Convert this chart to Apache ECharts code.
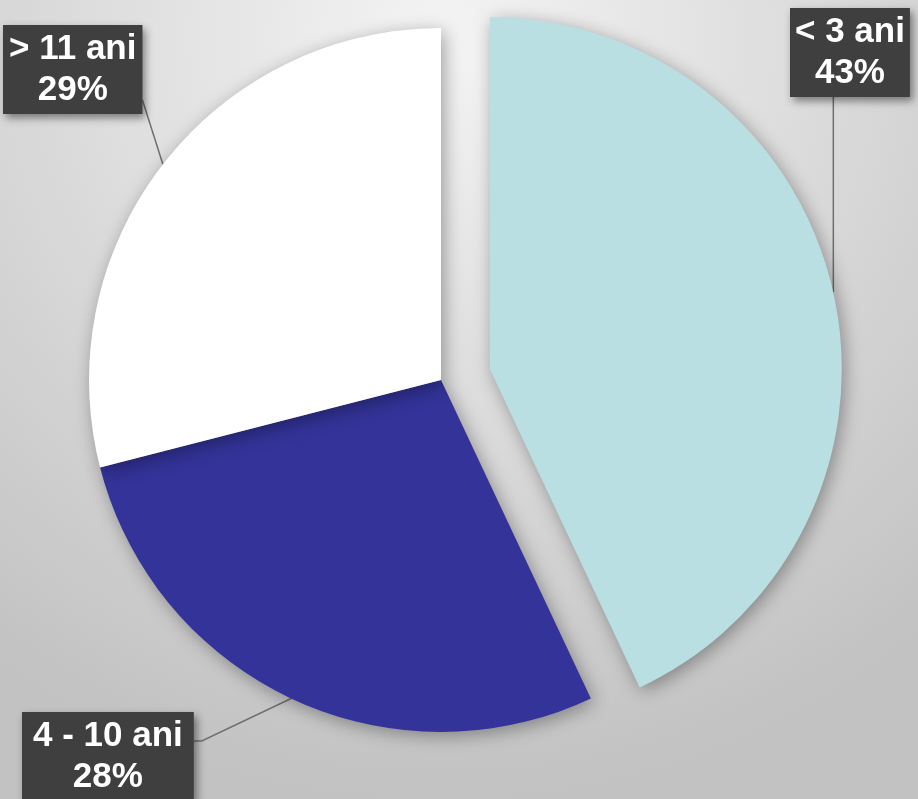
<!DOCTYPE html>
<html>
<head>
<meta charset="utf-8">
<script src="https://cdn.jsdelivr.net/npm/echarts@6/dist/echarts.min.js"></script>
<style>
  html, body { margin: 0; padding: 0; }
  #chart { width: 918px; height: 799px; }
</style>
</head>
<body>
<div id="chart"></div>
<script>
// data
let categories = ['< 3 ani', '4 - 10 ani', '> 11 ani']
let values = [43, 28, 29]
let colors = ['#b9dfe3', '#333399', '#ffffff']
let exploded = [true, false, false]

// label box top-left corners
let labelPos = [
    { x: 790, y: 8 },
    { x: 22, y: 712 },
    { x: 3, y: 25 }
]
let labelPad = [[5, 5, 2, 5], [5, 11, 2, 11], [5, 6, 2, 6]]

let center = [441, 380]
let radius = 352
let explodeDist = 50

let myChart = echarts.init(document.getElementById('chart'))

let total = values.reduce((a, b) => a + b, 0)

// offset of the pulled out slice, along its middle angle
let explodeCenter = function (i) {
    let before = values.slice(0, i).reduce((a, b) => a + b, 0)
    let mid = (before + values[i] / 2) / total * Math.PI * 2
    return [center[0] + Math.sin(mid) * explodeDist, center[1] - Math.cos(mid) * explodeDist]
}

let sliceShadow = {
    shadowBlur: 18,
    shadowColor: 'rgba(0,0,0,0.35)',
    shadowOffsetX: 3,
    shadowOffsetY: 4
}

let makeData = function (pulled) {
    return categories.map((c, i) => {
        let visible = exploded[i] === pulled
        return {
            name: c,
            value: values[i],
            itemStyle: visible ? Object.assign({ color: colors[i] }, sliceShadow) : { color: 'rgba(0,0,0,0)' },
            label: { show: visible, padding: labelPad[i] },
            labelLine: { show: visible }
        }
    })
}

let labelLayout = function (params) {
    let i = params.dataIndex
    if (!params.labelLinePoints) return {}
    let p = labelPos[i]
    let r = params.labelRect
    let start = params.labelLinePoints[0]
    let pts
    if (i === 0) {
        pts = [start, [start[0], p.y + r.height], [start[0], p.y + r.height]]
    } else if (i === 1) {
        let by = p.y + 29
        pts = [start, [p.x + r.width + 8, by], [p.x + r.width, by]]
    } else {
        pts = [start, [p.x + r.width, p.y + 75], [p.x + r.width, p.y + 75]]
    }
    return {
        x: p.x + r.width / 2,
        y: p.y + r.height / 2,
        align: 'center',
        verticalAlign: 'middle',
        labelLinePoints: pts
    }
}

let baseSeries = {
    type: 'pie',
    radius: [0, radius],
    startAngle: 90,
    clockwise: true,
    avoidLabelOverlap: false,
    label: {
        show: true,
        formatter: '{b}\n{d}%',
        color: '#fff',
        fontFamily: 'Liberation Sans, Arial',
        fontWeight: 'bold',
        fontSize: 35,
        lineHeight: 41,
        align: 'center',
        overflow: 'none',
        backgroundColor: '#3f3f3f',
        shadowBlur: 8,
        shadowColor: 'rgba(0,0,0,0.45)',
        shadowOffsetX: 3,
        shadowOffsetY: 4
    },
    labelLine: {
        show: true,
        lineStyle: { color: '#707070', width: 1.5 }
    },
    emphasis: { disabled: true },
    labelLayout: labelLayout
}

let option = {
    backgroundColor: new echarts.graphic.RadialGradient(0.48, 0.05, 0.95, [
        { offset: 0, color: '#f4f4f4' },
        { offset: 1, color: '#c2c2c2' }
    ]),
    animation: false,
    series: [
        Object.assign({}, baseSeries, {
            center: center,
            data: makeData(false)
        }),
        Object.assign({}, baseSeries, {
            center: explodeCenter(0),
            data: makeData(true)
        })
    ]
}
myChart.setOption(option)
window.addEventListener('resize', function () {
    myChart.resize()
})
</script>
</body>
</html>
